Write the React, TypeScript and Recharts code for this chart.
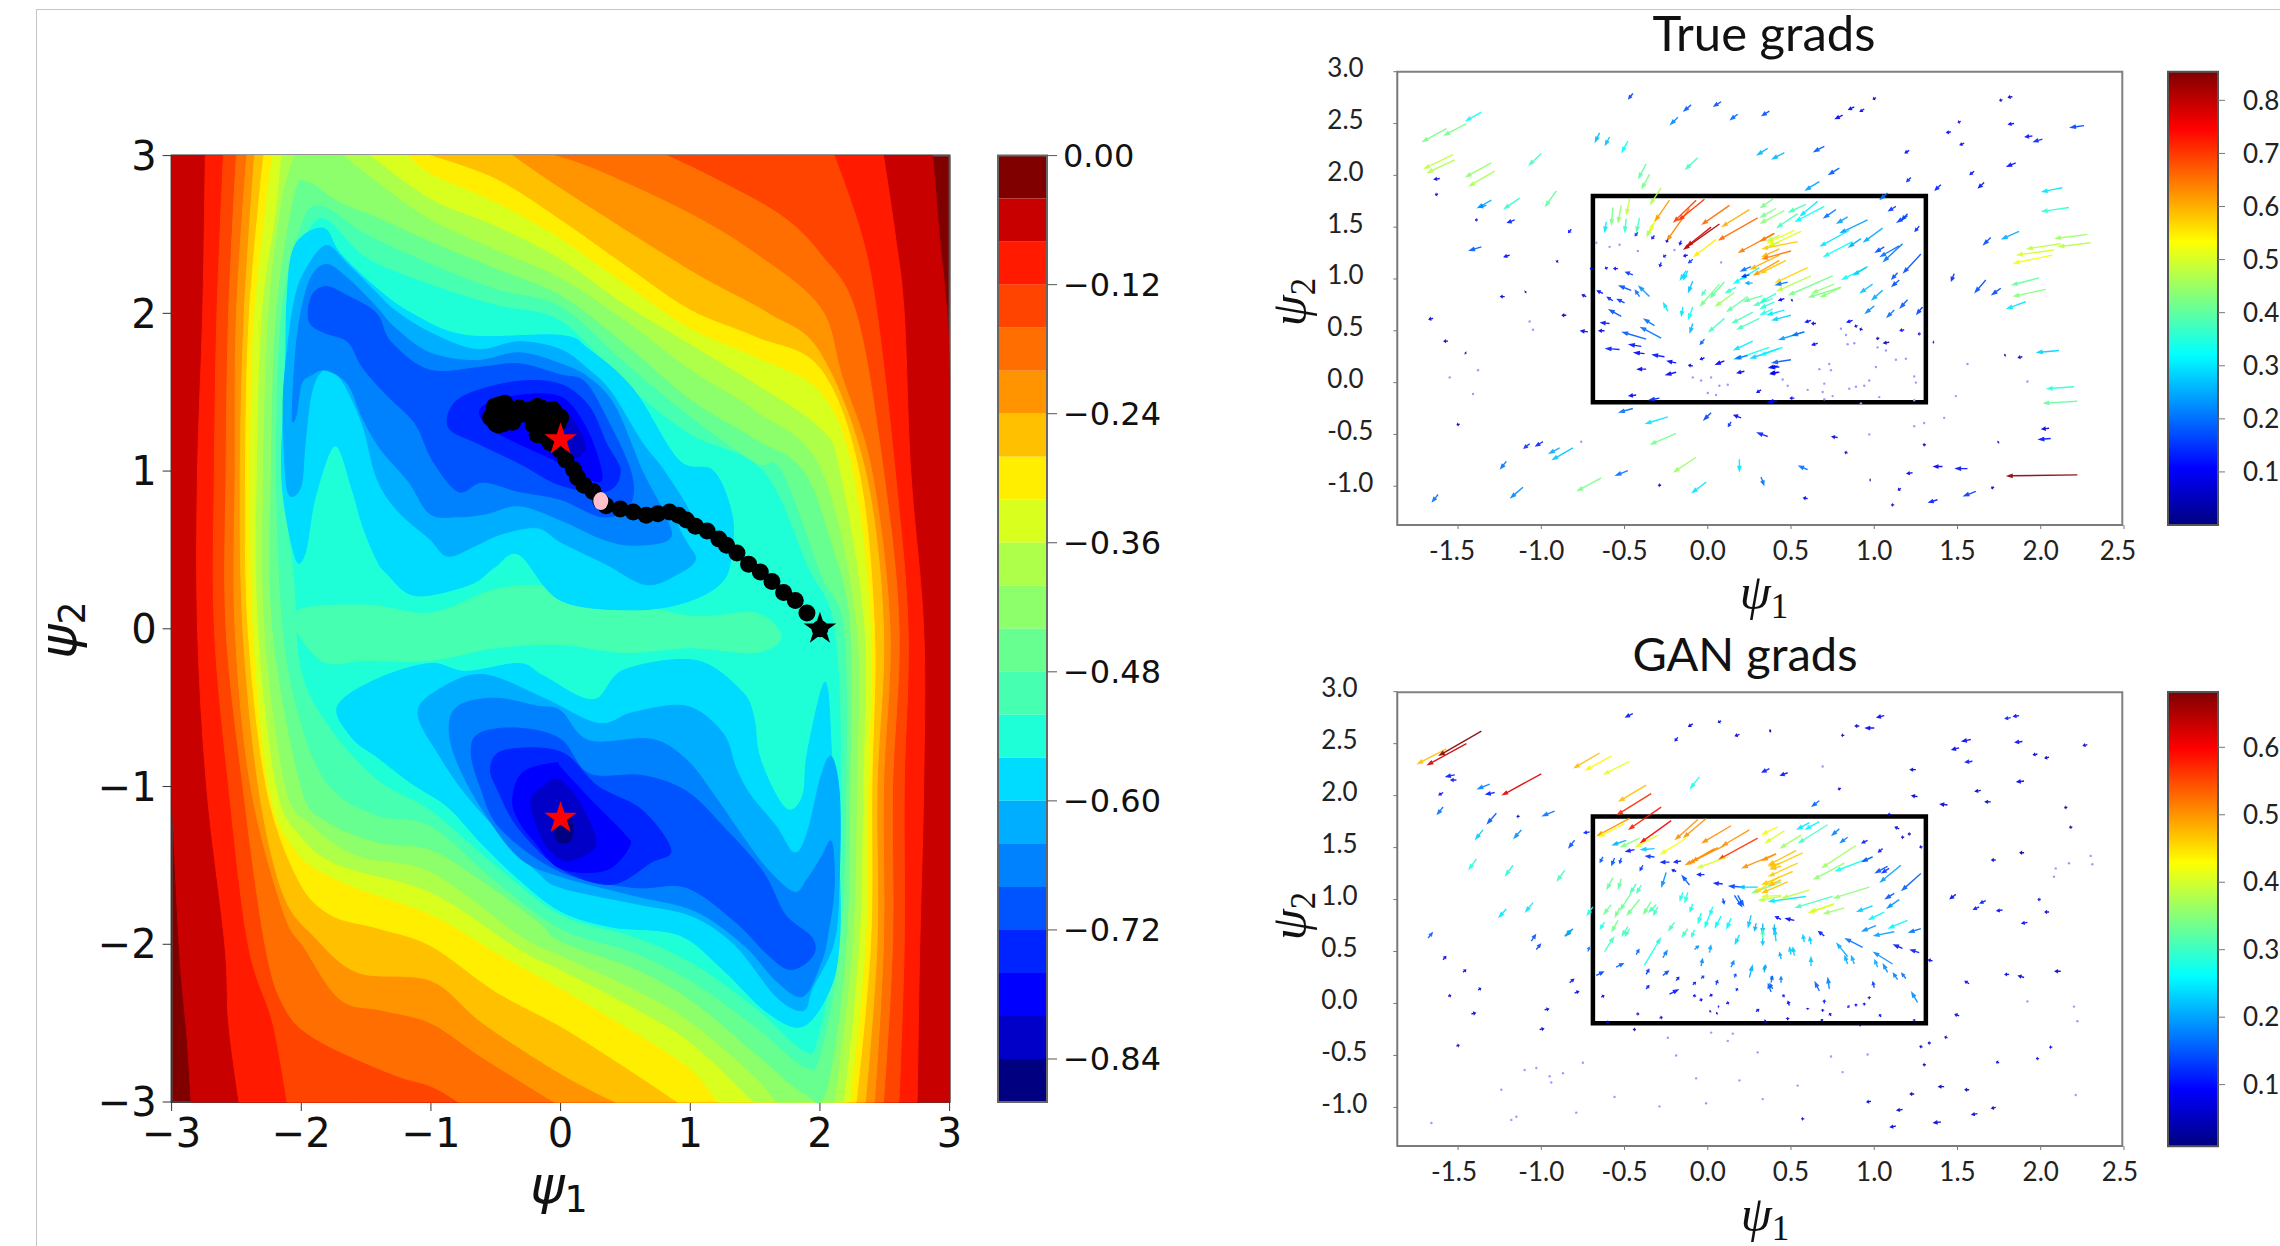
import React from "react"
import {
  ScatterChart,
  Scatter,
  XAxis,
  YAxis,
  CartesianGrid,
  ReferenceArea,
  ReferenceLine,
  Symbols,
} from "recharts"

type Pt = [number, number]
type Arrow = [number, number, number, number, number]

// contour colours, one per 0.04 band from 0.00 down to -0.88
const bandColors = [
  "#800000", "#c80000", "#ff1a00", "#ff4400", "#ff6e00", "#ff9400", "#ffc000", "#ffee00",
  "#d9ff1e", "#adff4a", "#8cff6a", "#66ff90", "#46ffb0", "#1effd8", "#00dcff", "#00aeff",
  "#0082ff", "#0054ff", "#0024ff", "#0000ff", "#0000c8", "#000080",
]
const contourTicks = [-3, -2, -1, 0, 1, 2, 3]
const bandTicks = [0, -0.12, -0.24, -0.36, -0.48, -0.6, -0.72, -0.84]
const quiverXTicks = [-1.5, -1, -0.5, 0, 0.5, 1, 1.5, 2, 2.5]
const quiverYTicks = [-1, -0.5, 0, 0.5, 1, 1.5, 2, 2.5, 3]
const trueBarTicks = [0.1, 0.2, 0.3, 0.4, 0.5, 0.6, 0.7, 0.8]
const ganBarTicks = [0.1, 0.2, 0.3, 0.4, 0.5, 0.6]

// each level is the outline of the region below that contour value
const level1: Pt[] = [[-3,3],[2.87,3],[2.92,2.5],[2.98,2],[3,1.6],[3,-3],[-2.85,-3],[-2.88,-2.6],[-2.94,-2.03],[-3,-1]]
const level2: Pt[] = [[-2.74,3],[2.49,3],[2.58,2.5],[2.65,2],[2.7,1],[2.8,0],[2.8,-1],[2.77,-2],[2.75,-3],[-2.48,-3],[-2.56,-2.5],[-2.59,-2],[-2.73,-1],[-2.8,0],[-2.8,1],[-2.76,2]]
const level3: Pt[] = [[-2.6,3],[2.11,3],[2.32,2.5],[2.44,2],[2.58,1],[2.68,0],[2.65,-1],[2.65,-2],[2.61,-3],[-2.11,-3],[-2.22,-2.5],[-2.41,-2],[-2.56,-1],[-2.67,0],[-2.67,1],[-2.65,2]]
const level4: Pt[] = [[-2.5,3],[0.82,3],[1.2,2.85],[1.7,2.62],[2,2.38],[2.28,2],[2.49,1],[2.61,0],[2.56,-1],[2.56,-2],[2.49,-3],[-0.79,-3],[-1,-2.9],[-1.31,-2.82],[-1.89,-2.6],[-2.13,-2.4],[-2.28,-2],[-2.45,-1],[-2.58,0],[-2.58,1],[-2.56,2]]
const level5: Pt[] = [[-2.42,3],[-0.05,3],[0.3,2.9],[1,2.63],[1.5,2.38],[2,2.04],[2.17,1.6],[2.4,1],[2.54,0],[2.49,-1],[2.49,-2],[2.42,-3],[-0.05,-3],[-0.6,-2.72],[-1,-2.5],[-1.37,-2.42],[-1.7,-2.35],[-1.97,-2.03],[-2.14,-1.79],[-2.39,-1],[-2.51,0],[-2.51,1],[-2.5,2]]
const level6: Pt[] = [[-2.36,3],[-0.37,3],[0,2.79],[1,2.27],[1.6,2],[2,1.75],[2.35,1],[2.49,0],[2.44,-1],[2.44,-2],[2.35,-3],[0.42,-3],[0,-2.82],[-0.6,-2.5],[-1,-2.23],[-1.56,-2.18],[-1.89,-1.96],[-2.14,-1.68],[-2.33,-1],[-2.45,0],[-2.47,1],[-2.44,2]]
const level7: Pt[] = [[-2.29,3],[-1.01,3],[-0.5,2.85],[0,2.59],[0.5,2.3],[1,2.02],[1.5,1.85],[2,1.65],[2.3,1],[2.42,0],[2.4,-1],[2.39,-2],[2.28,-3],[0.9,-3],[0.5,-2.78],[0,-2.52],[-0.5,-2.3],[-1,-2.01],[-1.4,-1.9],[-1.78,-1.81],[-2.03,-1.58],[-2.27,-1],[-2.41,0],[-2.43,1],[-2.4,2]]
const level8: Pt[] = [[-2.22,3],[-1.17,3],[-1,2.88],[-0.5,2.7],[0,2.47],[0.5,2.18],[1,1.9],[1.5,1.72],[2,1.5],[2.25,1],[2.39,0],[2.37,-1],[2.35,-2],[2.23,-3],[1.21,-3],[1,-2.79],[0.56,-2.55],[0,-2.28],[-0.5,-2.05],[-1,-1.81],[-1.7,-1.6],[-2.05,-1.4],[-2.25,-1],[-2.37,0],[-2.39,1],[-2.36,2]]
const level9: Pt[] = [[-2.15,3],[-1.47,3],[-1,2.72],[-0.5,2.55],[0,2.34],[0.5,2.05],[1,1.8],[1.5,1.55],[2,1.27],[2.15,1],[2.34,0],[2.33,-1],[2.3,-2],[2.18,-3],[1.49,-3],[1,-2.62],[0.56,-2.4],[0,-2.16],[-0.32,-2.03],[-1,-1.67],[-1.7,-1.5],[-2,-1.32],[-2.19,-1],[-2.33,0],[-2.34,1],[-2.3,2],[-2.2,2.6]]
const level10: Pt[] = [[-2.05,3],[-1.68,3],[-1.4,2.82],[-1,2.59],[-0.5,2.4],[0,2.22],[0.5,1.95],[1,1.64],[1.5,1.38],[2,1.02],[2.28,0],[2.28,-1],[2.25,-2],[2.11,-3],[1.66,-3],[1.5,-2.84],[1,-2.49],[0.56,-2.28],[0,-2.07],[-0.3,-1.95],[-1,-1.54],[-1.56,-1.44],[-1.91,-1.25],[-2.12,-1],[-2.28,0],[-2.29,1],[-2.25,2],[-2.15,2.7]]
const level11: Pt[] = [[-2.05,2.75],[-1.95,2.83],[-1.7,2.7],[-1.4,2.6],[-1,2.45],[-0.5,2.28],[0,2.11],[0.5,1.8],[1,1.45],[1.5,1.2],[1.87,1],[2.1,0.5],[2.23,0],[2.23,-1],[2.2,-2],[2.05,-2.92],[1.87,-2.94],[1.5,-2.69],[1,-2.35],[0.56,-2.15],[0,-1.98],[-0.18,-1.85],[-0.6,-1.6],[-1,-1.4],[-1.42,-1.35],[-1.8,-1.22],[-2,-1],[-2.22,0],[-2.23,1],[-2.19,2]]
const level12: Pt[] = [[-2,2.55],[-1.85,2.68],[-1.5,2.5],[-1,2.31],[-0.5,2.15],[0,2.04],[0.5,1.68],[1,1.34],[1.5,1.05],[1.7,1],[2,0.35],[2.18,0],[2.2,-1],[2.15,-2],[2,-2.7],[1.87,-2.77],[1.5,-2.52],[1,-2.23],[0.56,-2.05],[0,-1.9],[-0.5,-1.6],[-1,-1.25],[-1.42,-1.18],[-1.78,-1],[-2,-0.6],[-2.14,0],[-2.19,1],[-2.15,2]]
const level13: Pt[] = [[-2,2.4],[-1.83,2.6],[-1.5,2.35],[-1,2.18],[-0.5,2.05],[0,1.95],[0.5,1.55],[1,1.23],[1.56,1],[1.9,0.4],[2.11,0],[2.16,-1],[2.11,-2],[1.98,-2.6],[1.87,-2.67],[1.5,-2.4],[1,-2.11],[0.56,-1.95],[0,-1.81],[-0.5,-1.5],[-1,-1.15],[-1.42,-0.95],[-1.8,-0.6],[-2,-0.25],[-2.05,0.3],[-2.13,1],[-2.11,2]]
const saddle: Pt[] = [[-2.05,0.1],[-1.5,0.15],[-1,0.1],[-0.5,0.25],[-0.1,0.27],[0.3,0.22],[1,0.08],[1.5,0.1],[1.7,-0.05],[1.5,-0.15],[1,-0.12],[0.5,-0.15],[0,-0.1],[-0.5,-0.12],[-1,-0.2],[-1.5,-0.2],[-1.85,-0.2]]
const upper14: Pt[] = [[-2.05,2.43],[-1.83,2.54],[-1.7,2.38],[-1.42,2.16],[-1.15,2],[-0.73,1.86],[0,1.86],[0.22,1.77],[0.56,1.52],[0.91,1.07],[1.18,1],[1.32,0.73],[1.32,0.5],[1.25,0.3],[0.97,0.17],[0.56,0.12],[0,0.18],[-0.32,0.47],[-0.51,0.39],[-0.7,0.28],[-1.12,0.21],[-1.34,0.35],[-1.42,0.44],[-1.53,0.66],[-1.61,0.89],[-1.74,1.16],[-1.89,0.84],[-1.97,0.48],[-2.05,0.46],[-2.15,0.96],[-2.12,1.64],[-2.11,2.09]]
const upper15: Pt[] = [[-1.81,2.43],[-1.64,2.31],[-1.42,2.13],[-1.28,2.02],[-1.01,1.88],[-0.65,1.77],[-0.32,1.82],[0,1.77],[0.22,1.64],[0.39,1.5],[0.63,1.18],[0.8,1],[1.01,0.71],[0.91,0.66],[0.97,0.55],[1.04,0.44],[0.91,0.35],[0.66,0.28],[0.35,0.41],[0,0.55],[-0.18,0.64],[-0.46,0.6],[-0.65,0.53],[-0.87,0.46],[-1.01,0.57],[-1.26,0.75],[-1.42,0.96],[-1.53,1.3],[-1.7,1.59],[-1.83,1.64],[-1.92,1.5],[-1.97,1.18],[-2,0.91],[-2.08,0.84],[-2.12,0.96],[-2.14,1.41],[-2.11,1.75],[-2.05,2.09],[-1.97,2.27]]
const upper16: Pt[] = [[-1.81,2.31],[-1.64,2.22],[-1.42,2.04],[-1.28,1.91],[-1.01,1.75],[-0.65,1.7],[-0.32,1.75],[0,1.68],[0.22,1.59],[0.42,1.41],[0.63,1],[0.8,0.73],[0.84,0.57],[0.56,0.53],[0.32,0.57],[0,0.69],[-0.32,0.78],[-0.57,0.73],[-0.79,0.71],[-1.01,0.73],[-1.17,0.93],[-1.39,1.14],[-1.53,1.34],[-1.64,1.55],[-1.81,1.64],[-1.92,1.61],[-2,1.55],[-2.04,1.35],[-2.07,1.36],[-2.03,1.86],[-1.94,2.2]]
const upper17: Pt[] = [[-1.81,2.17],[-1.64,2.11],[-1.42,2],[-1.31,1.82],[-1.01,1.64],[-0.6,1.66],[-0.32,1.68],[0,1.61],[0.18,1.57],[0.32,1.39],[0.54,1],[0.53,0.78],[0.32,0.71],[0,0.82],[-0.32,0.87],[-0.6,0.93],[-0.79,0.87],[-0.99,1.07],[-1.12,1.3],[-1.34,1.48],[-1.53,1.66],[-1.64,1.82],[-1.83,1.88],[-1.94,1.95],[-1.92,2.11]]
const upper18: Pt[] = [[-0.84,1.41],[-0.68,1.5],[-0.32,1.57],[0,1.55],[0.22,1.41],[0.35,1.18],[0.46,1],[0.35,0.87],[0,0.91],[-0.32,1.05],[-0.65,1.18],[-0.86,1.27]]
const upper19: Pt[] = [[-0.6,1.32],[-0.6,1.41],[-0.32,1.48],[0,1.47],[0.18,1.3],[0.3,1.05],[0.29,0.93],[0,1.05],[-0.46,1.23]]
const upper20: Pt[] = [[0,1.4],[0.15,1.25],[0.18,1.12],[0,1.07],[-0.16,1.2],[-0.16,1.35]]
const lower14: Pt[] = [[-1.72,-0.49],[-1.61,-0.69],[-1.42,-0.81],[-1.15,-0.98],[-0.87,-1.13],[-0.6,-1.37],[-0.32,-1.59],[0,-1.79],[0.39,-1.89],[0.91,-1.94],[1.25,-2.16],[1.59,-2.43],[1.87,-2.52],[2.08,-2.28],[2.15,-1.98],[2.15,-1.54],[2.11,-1.05],[2.09,-0.8],[2.06,-0.39],[2.01,-0.39],[1.9,-0.8],[1.87,-1.05],[1.77,-1.15],[1.66,-1.05],[1.53,-0.8],[1.49,-0.56],[1.39,-0.39],[1.04,-0.2],[0.49,-0.26],[0.25,-0.45],[-0.13,-0.3],[-0.32,-0.22],[-0.73,-0.27],[-1.01,-0.22],[-1.42,-0.32]]
const lower15: Pt[] = [[-1.1,-0.54],[-0.95,-0.39],[-0.6,-0.29],[-0.13,-0.44],[0.29,-0.6],[0.56,-0.53],[0.97,-0.49],[1.25,-0.66],[1.35,-0.88],[1.46,-1.05],[1.66,-1.25],[1.8,-1.42],[1.9,-1.3],[2.01,-0.93],[2.09,-0.81],[2.15,-1.05],[2.15,-1.54],[2.11,-1.98],[1.94,-2.28],[1.87,-2.42],[1.66,-2.33],[1.35,-2.01],[1.01,-1.82],[0.56,-1.74],[0,-1.64],[-0.18,-1.54],[-0.46,-1.3],[-0.73,-1.05],[-0.93,-0.81]]
const lower16: Pt[] = [[-0.86,-0.64],[-0.79,-0.49],[-0.51,-0.44],[-0.18,-0.49],[0,-0.52],[0.22,-0.71],[0.7,-0.7],[0.97,-0.83],[1.18,-1.05],[1.39,-1.3],[1.59,-1.52],[1.8,-1.67],[1.9,-1.59],[2.01,-1.45],[2.09,-1.35],[2.11,-1.64],[2.06,-1.94],[2.01,-2.11],[1.87,-2.33],[1.66,-2.23],[1.42,-2.01],[1.04,-1.79],[0.56,-1.69],[0,-1.57],[-0.32,-1.45],[-0.6,-1.15],[-0.79,-0.86]]
const lower17: Pt[] = [[-0.69,-0.78],[-0.62,-0.66],[-0.32,-0.63],[0,-0.7],[0.22,-0.92],[0.63,-0.93],[0.97,-1.03],[1.25,-1.25],[1.56,-1.54],[1.73,-1.81],[1.94,-1.96],[1.94,-2.08],[1.77,-2.16],[1.59,-2.06],[1.35,-1.86],[0.97,-1.64],[0.56,-1.64],[0,-1.54],[-0.46,-1.27],[-0.62,-1]]
const lower18: Pt[] = [[-0.54,-0.88],[-0.43,-0.77],[0,-0.78],[0.29,-1],[0.63,-1.15],[0.85,-1.4],[0.7,-1.48],[0.39,-1.62],[0,-1.52],[-0.32,-1.27],[-0.48,-1.03]]
const lower19: Pt[] = [[-0.37,-1.08],[-0.29,-0.91],[-0.04,-0.85],[0,-0.88],[0.25,-1.1],[0.49,-1.3],[0.53,-1.38],[0.35,-1.53],[0,-1.52],[-0.2,-1.35],[-0.32,-1.22]]
const lower20: Pt[] = [[-0.23,-1.1],[-0.13,-1],[0,-0.96],[0.18,-1.15],[0.27,-1.37],[0.11,-1.46],[0,-1.46],[-0.13,-1.35]]
const lower21: Pt[] = [[-0.03,-1.2],[0.08,-1.2],[0.08,-1.34],[-0.03,-1.34]]

const contourLayers: [number, Pt[]][] = [
  [1, level1], [2, level2], [3, level3], [4, level4], [5, level5], [6, level6], [7, level7],
  [8, level8], [9, level9], [10, level10], [11, level11], [12, level12], [13, level13], [12, saddle],
  [14, upper14], [14, lower14], [15, upper15], [15, lower15], [16, upper16], [16, lower16],
  [17, upper17], [17, lower17], [18, upper18], [18, lower18], [19, upper19], [19, lower19],
  [20, upper20], [20, lower20], [21, lower21],
]

const trajectory: Pt[] = [
  [2,0],[1.9,0.1],[1.81,0.18],[1.72,0.23],[1.63,0.3],[1.54,0.36],[1.45,0.41],[1.36,0.48],[1.28,0.53],[1.22,0.57],
  [1.13,0.62],[1.04,0.65],[0.97,0.69],[0.91,0.72],[0.84,0.74],[0.75,0.73],[0.66,0.72],[0.56,0.74],[0.46,0.76],
  [0.35,0.78],[0.31,0.81],[0.25,0.87],[0.18,0.91],[0.13,0.96],[0.1,1.01],[0.04,1.07],[0,1.13],[-0.08,1.18],
  [-0.18,1.23],[-0.21,1.29],[-0.16,1.34],[-0.09,1.38],[0,1.34],[-0.06,1.39],[-0.12,1.32],[-0.23,1.39],[-0.18,1.41],
  [-0.32,1.4],[-0.43,1.43],[-0.51,1.41],[-0.54,1.34],[-0.48,1.29],[-0.37,1.31],[-0.24,1.36],[-0.47,1.42],[-0.4,1.36],
  [-0.5,1.4],[-0.45,1.37],[-0.36,1.39],[-0.3,1.36],[-0.25,1.38],[-0.15,1.4],[-0.05,1.38],[-0.02,1.3],[-0.1,1.28],
  [-0.15,1.27],[-0.05,1.25],[-0.12,1.22],[-0.03,1.2],[-0.52,1.36],[-0.5,1.3],[-0.44,1.3],
]
const trajectoryMark: Pt[] = [[0.31,0.81]]
const minima: Pt[] = [[0,1.2],[0,-1.2]]
const startPoint: Pt[] = [[2,0]]

// head x, head y, tail x, tail y, magnitude
const trueArrows: Arrow[] = [
  [-1.72,2.32,-1.57,2.45,.42],[-1.59,2.38,-1.45,2.5,.42],[-1.46,2.52,-1.36,2.61,.33],[-1.71,2.06,-1.53,2.2,.48],[-1.69,2.02,-1.52,2.15,.47],
  [-1.46,1.98,-1.3,2.12,.44],[-1.44,1.89,-1.28,2.04,.46],[-1.08,2.09,-1,2.21,.38],[-1.65,1.96,-1.61,1.97,.1],[-1.64,1.81,-1.62,1.82,.08],
  [-1.39,1.68,-1.3,1.76,.25],[-1.38,1.69,-1.33,1.71,.22],[-1.23,1.67,-1.13,1.78,.36],[-.98,1.69,-.91,1.85,.4],[-1.4,1.57,-1.38,1.57,.08],
  [-1.21,1.54,-1.16,1.57,.13],[-.84,1.44,-.82,1.48,.12],[-1.44,1.27,-1.36,1.31,.18],[-1.23,1.21,-1.19,1.23,.1],[-.91,1.16,-.9,1.18,.05],
  [-.68,2.31,-.65,2.41,.26],[-.62,2.28,-.59,2.37,.27],[-.52,2.21,-.48,2.33,.32],[-.48,2.73,-.45,2.79,.16],[-.23,2.48,-.18,2.56,.22],
  [-.15,2.61,-.1,2.68,.18],[.03,2.66,.08,2.71,.17],[.13,2.53,.18,2.59,.19],[.32,2.57,.37,2.62,.17],[.29,2.19,.36,2.26,.26],[.38,2.15,.46,2.22,.26],
  [-.14,2.05,-.06,2.17,.38],[-.42,1.96,-.37,2.11,.4],[-.4,1.86,-.35,2.01,.42],[-.35,1.71,-.28,1.88,.47],
  [-.49,1.61,-.47,1.77,.48],[-.58,1.51,-.57,1.69,.42],[-.54,1.53,-.52,1.71,.44],[-.62,1.44,-.61,1.55,.3],[-.5,1.44,-.49,1.58,.36],[-.43,1.44,-.41,1.59,.38],
  [-.37,1.4,-.33,1.53,.45],[-.35,1.44,-.3,1.63,.52],[-.32,1.55,-.23,1.76,.62],[-.25,1.36,-.11,1.68,.64],[-.21,1.54,-.07,1.76,.7],[-.18,1.56,-.02,1.77,.71],
  [-.34,1.38,-.32,1.42,.12],[-.44,1.41,-.42,1.45,.15],[-.25,1.35,-.24,1.38,.08],[-.17,1.32,-.16,1.37,.12],[-.15,1.28,.07,1.53,.82],[-.13,1.31,.02,1.5,.78],
  [-.09,1.21,.05,1.38,.55],[-.04,1.52,.13,1.71,.66],[.08,1.5,.25,1.67,.6],[.06,1.37,.3,1.59,.66],[.18,1.25,.4,1.44,.65],[-.27,1.21,-.25,1.23,.12],
  [-.29,1.11,-.28,1.16,.13],[-.15,1.22,-.12,1.23,.1],[-.12,1.15,-.09,1.19,.16],[-.17,.98,-.13,1.08,.29],[-.15,.98,-.12,1.08,.29],[-.12,.86,-.09,.98,.27],
  [-.62,1.1,-.6,1.11,.1],[-.57,1.1,-.54,1.1,.1],[-.5,1.07,-.45,1.04,.15],[-.71,1.1,-.69,1.1,.1],[-.54,.94,-.46,.89,.17],[-.44,.9,-.41,.83,.2],[-.42,.94,-.35,.83,.23],
  [-.67,.89,-.63,.86,.1],[-.61,.83,-.57,.79,.14],[-.55,.81,-.5,.77,.15],[-.76,.85,-.73,.83,.08],[-1.25,.83,-1.22,.83,.06],[-1.1,.87,-1.09,.88,.03],
  [-.27,.78,-.24,.69,.3],[-.16,.63,-.15,.73,.3],[-.12,.6,-.09,.73,.33],[-.05,.73,.07,.95,.42],[.01,.81,.1,.97,.4],[-.04,.83,-.01,.9,.38],[.04,.73,.16,.87,.45],
  [.11,.68,.24,.83,.4],[.1,.86,.17,.92,.36],[.19,.99,.31,1.11,.34],[.15,.95,.25,1.05,.32],[.35,1.36,.43,1.42,.47],[.36,1.32,.43,1.35,.47],[.32,1.21,.43,1.29,.6],
  [.27,1.03,.43,1.18,.62],[.25,1.09,.43,1.23,.6],[.19,1.07,.26,1.12,.2],[.2,1.02,.25,1.04,.14],[.22,.96,.27,.96,.25],[.21,.78,.33,.84,.4],[.27,.74,.39,.81,.38],
  [.76,2.54,.81,2.58,.1],[.84,2.63,.88,2.66,.1],[.91,2.61,.94,2.64,.1],[.99,2.73,1.01,2.75,.08],[1.75,2.72,1.77,2.73,.05],[1.8,2.75,1.83,2.76,.05],
  [1.5,2.51,1.52,2.52,.08],[1.43,2.41,1.46,2.42,.1],[1.51,2.29,1.54,2.31,.1],[1.8,2.49,1.84,2.5,.09],[1.9,2.37,1.95,2.38,.12],[1.95,2.32,2.01,2.35,.14],
  [2.17,2.46,2.26,2.48,.16],[1.18,2.21,1.21,2.24,.1],[.63,2.22,.7,2.28,.18],[.72,2,.79,2.07,.18],[.58,1.85,.67,1.94,.24],[1.19,1.93,1.22,1.98,.14],
  [1.36,1.85,1.4,1.91,.13],[1.57,2,1.6,2.04,.12],[1.62,1.87,1.66,1.93,.12],[1.79,2.08,1.85,2.12,.12],[2,1.84,2.13,1.88,.3],[2,1.65,2.17,1.69,.36],
  [1.03,1.76,1.08,1.83,.2],[1.08,1.65,1.13,1.7,.15],[1.13,1.54,1.2,1.61,.16],[1.16,1.56,1.2,1.63,.16],[1.24,1.45,1.27,1.51,.14],[1.65,1.32,1.7,1.4,.17],
  [1.76,1.38,1.87,1.46,.25],[2.08,1.39,2.28,1.43,.45],[1.91,1.29,2.12,1.34,.48],[2.1,1.31,2.3,1.35,.47],[1.85,1.23,2.08,1.28,.5],[1.83,1.15,2.07,1.23,.52],
  [1.82,.94,1.99,1.01,.4],[1.83,.83,2.03,.9,.43],[1.79,.71,1.91,.78,.3],[1.6,.86,1.67,.99,.17],[1.7,.84,1.76,.91,.17],[1.46,.97,1.48,1.05,.14],
  [.31,1.59,.41,1.68,.42],[.31,1.68,.39,1.77,.42],[.31,1.53,.46,1.66,.44],[.41,1.49,.54,1.63,.38],[.48,1.64,.59,1.72,.38],[.52,1.55,.7,1.7,.32],[.55,1.6,.66,1.75,.3],
  [.69,1.58,.77,1.67,.2],[.77,1.53,.84,1.6,.24],[.79,1.44,.96,1.57,.24],[.67,1.31,.85,1.47,.3],[.69,1.21,.87,1.36,.33],[.84,1.3,.92,1.39,.25],[.93,1.35,1.05,1.49,.25],
  [1,1.25,1.06,1.31,.17],[1.03,1.21,1.15,1.32,.2],[1.05,1.16,1.17,1.34,.2],[1.17,1.05,1.28,1.24,.17],[1.1,.99,1.14,1.06,.17],[1.1,.92,1.15,.99,.17],
  [.31,1.36,.4,1.44,.65],[.35,1.34,.52,1.47,.52],[.36,1.31,.56,1.46,.5],[.32,1.19,.5,1.27,.65],[.32,1.29,.54,1.36,.58],[.31,1.05,.47,1.18,.58],[.4,.96,.6,1.11,.57],
  [.41,.88,.62,1.03,.47],[.48,.84,.75,1.03,.42],[.6,.82,.8,.92,.42],[.67,.82,.8,.92,.44],[.62,.86,.76,.95,.44],[.4,.94,.48,.97,.2],[.8,.99,.95,1.11,.33],[.87,1.03,.96,1.12,.28],
  [.91,.86,.99,.95,.27],[.98,.79,1.05,.89,.25],[.94,.66,1,.74,.22],[1.07,.62,1.12,.7,.2],[1.15,.71,1.2,.8,.18],[1.25,.65,1.29,.73,.16],[.42,.79,.46,.81,.1],[.5,.79,.51,.8,.04],
  [.31,.77,.41,.86,.35],[.31,.71,.4,.78,.35],[.31,.65,.39,.71,.35],[.35,.65,.46,.7,.3],[.38,.6,.5,.65,.28],
  [-1.68,.61,-1.65,.62,.07],[-1.59,.4,-1.56,.4,.05],[-1.46,.29,-1.45,.28,.03],[-1.51,-.41,-1.49,-.4,.04],[-.88,.65,-.85,.65,.05],[-.77,.5,-.72,.49,.09],[-.66,.5,-.62,.5,.1],
  [-.65,.58,-.59,.57,.12],[-.6,.71,-.52,.64,.17],[-.39,.62,-.32,.55,.2],[-.52,.49,-.37,.42,.18],[-.41,.54,-.28,.43,.2],[-.62,.33,-.53,.32,.13],[-.48,.37,-.4,.35,.12],
  [-.45,.29,-.38,.28,.09],[-.34,.27,-.26,.25,.12],[-.25,.21,-.19,.19,.1],[-.43,.13,-.37,.13,.09],[-.26,.07,-.19,.1,.1],[-.12,.17,-.09,.16,.07],[-.05,.22,-.02,.24,.1],
  [.04,.17,.1,.21,.1],[.17,.09,.22,.11,.09],[-.48,-.13,-.43,-.12,.1],[-.36,-.17,-.29,-.15,.14],[-.54,-.29,-.45,-.25,.2],[-.38,-.4,-.24,-.33,.3],[-.35,-.6,-.19,-.49,.42],
  [-.21,-.87,-.07,-.72,.45],[-.1,-1.07,-.01,-.96,.3],[-.79,-1.05,-.64,-.92,.42],[-.56,-.9,-.48,-.85,.2],[-.96,-.69,-.89,-.63,.25],[-.94,-.75,-.81,-.63,.27],[-1.11,-.64,-1.07,-.59,.15],
  [-1.04,-.62,-.99,-.57,.14],[-1.25,-.84,-1.21,-.76,.2],[-1.19,-1.12,-1.11,-1.01,.22],[-1.66,-1.16,-1.62,-1.08,.2],[-.3,-.99,-.28,-.99,.07],[-.03,-.37,.02,-.29,.16],
  [.12,-.43,.14,-.38,.14],[.15,-.31,.2,-.34,.1],[.29,-.48,.36,-.52,.13],[.19,-.87,.19,-.74,.3],[.34,-1,.32,-.91,.2],[.15,.31,.27,.4,.3],[.15,.22,.37,.34,.33],[.25,.23,.43,.33,.28],
  [-.05,.36,-.02,.42,.18],[-.11,.47,-.09,.57,.26],[0,.48,.1,.62,.38],[.17,.51,.31,.62,.38],[.14,.57,.27,.68,.38],[.16,.23,.24,.26,.2],[.37,.15,.43,.15,.12],[.37,.09,.43,.1,.11],
  [.29,-.1,.32,-.07,.1],[.35,-.19,.42,-.18,.1],[.42,.41,.58,.49,.24],[.5,.45,.58,.49,.2],[.58,.58,.62,.6,.1],[.62,.57,.65,.57,.08],[.62,.36,.66,.38,.1],[.83,.58,.87,.6,.1],
  [.88,.54,.9,.55,.05],[.91,.52,.93,.51,.05],[1.15,.5,1.18,.51,.1],[1.26,.47,1.28,.47,.1],[1.35,.39,1.36,.39,.05],[1.01,.42,1.03,.43,.04],[1.05,.38,1.09,.39,.04],[.31,.26,.45,.34,.32],
  [.38,.19,.5,.22,.18],[.36,.14,.42,.16,.12],[.37,.08,.42,.1,.1],[1.78,.26,1.79,.27,.04],[1.86,.24,1.89,.25,.06],[1.97,.29,2.11,.31,.28],[2.03,-.06,2.2,-.04,.35],[2.01,-.2,2.22,-.18,.4],
  [1.29,-.6,1.31,-.6,.04],[1.74,-.58,1.75,-.57,.04],[2,-.45,2.05,-.44,.08],[1.98,-.55,2.06,-.54,.12],[1.79,-.9,2.22,-.89,.85],[.74,-.52,.78,-.53,.08],[.82,-.67,.84,-.68,.06],
  [.54,-.8,.6,-.84,.2],[.97,-.94,.98,-.94,.05],[.57,-1.11,.6,-1.12,.1],[1.19,-.88,1.23,-.87,.09],[1.35,-.81,1.41,-.81,.1],[1.48,-.83,1.56,-.83,.12],[1.14,-1.04,1.16,-1.02,.06],
  [1.53,-1.1,1.61,-1.05,.15],[1.32,-1.16,1.38,-1.13,.13],[1.1,-1.18,1.12,-1.18,.05],[1.7,-1.02,1.72,-1.01,.05],[.49,-.15,.52,-.15,.1],[.37,-.18,.41,-.18,.1],
]
const trueSpecks: Pt[] = [
  [.8,.52],[.83,.46],[.84,.37],[.88,.38],[1.02,.34],[1.07,.31],[1.13,.22],[1.19,.23],[1.01,.15],[.67,.13],[.73,.18],[.74,.12],[.45,.03],[.48,-.03],[.7,-.01],[.6,-.07],[.69,-.09],
  [.75,-.13],[.85,-.06],[.89,-.04],[.94,-.03],[.97,.02],[1.24,.06],[1.25,0],[1.03,-.14],[1.24,-.17],[.92,-.2],[.7,-.16],[-.67,1.35],[-.59,1.31],[-.53,1.33],[-.42,1.27],[-.2,1.28],[.08,1.16],
  [-1.55,.05],[-1.38,.12],[-1.41,-.11],[-1.07,.59],[-1.05,.51],[-.76,-.57],[-.09,.05],[-.04,.02],[.02,.05],[.07,-.03],[.12,-.02],[0,-.1],[.05,-.12],[1.92,.01],[1.56,.18],[1.49,-.13],[1.42,-.34],[1.3,-.39],[1.24,-.42],[.97,-.5],
]

const ganArrows: Arrow[] = [
  [-1.75,2.3,-1.57,2.45,.47],[-1.69,2.29,-1.45,2.5,.63],[-1.62,2.38,-1.36,2.62,.68],[-1.58,2.18,-1.52,2.2,.1],[-1.55,2.15,-1.51,2.15,.1],[-1.39,2.06,-1.31,2.11,.17],[-1.34,2.01,-1.28,2.03,.1],
  [-1.24,2,-1,2.21,.62],[-.81,2.26,-.65,2.41,.47],[-.74,2.24,-.58,2.38,.43],[-.63,2.2,-.47,2.33,.41],[-.5,2.75,-.45,2.79,.1],[-.2,2.52,-.18,2.56,.08],[-.12,2.66,-.09,2.69,.06],[.06,2.7,.08,2.72,.05],
  [.16,2.57,.19,2.59,.06],[.37,2.62,.38,2.63,.02],[.32,2.22,.37,2.26,.1],[-.11,2.06,-.05,2.18,.27],[-1.62,2,-1.59,2.03,.08],[-1.63,1.81,-1.59,1.89,.16],[-1.33,1.72,-1.27,1.83,.14],[-1.15,1.8,-1.13,1.8,.06],
  [-1,1.8,-.92,1.85,.16],[-1.4,1.57,-1.35,1.67,.22],[-1.17,1.58,-1.12,1.67,.18],[-.84,1.49,-.8,1.57,.14],[-.75,1.64,-.71,1.65,.1],[-1.44,1.28,-1.39,1.39,.28],[-1.22,1.22,-1.17,1.33,.28],[-.91,1.17,-.86,1.28,.3],
  [-1.26,.82,-1.21,.91,.24],[-1.1,.87,-1.05,.97,.24],[-.86,.64,-.81,.72,.18],[-.73,.84,-.69,.93,.27],[-.54,1.94,-.37,2.1,.47],[-.55,1.81,-.34,2.02,.57],[-.48,1.67,-.28,1.89,.58],[-.67,1.61,-.47,1.78,.5],[-.66,1.6,-.5,1.73,.42],
  [-.41,1.54,-.22,1.76,.6],[-.58,1.52,-.49,1.57,.2],[-.53,1.5,-.41,1.59,.34],[-.44,1.5,-.3,1.62,.4],[-.29,1.43,-.13,1.59,.42],[-.5,1.46,-.44,1.48,.1],[-.41,1.48,-.32,1.49,.22],[-.38,1.42,-.32,1.41,.12],
  [-.65,1.35,-.63,1.41,.14],[-.58,1.32,-.56,1.4,.14],[-.53,1.34,-.52,1.4,.13],[-.41,1.27,-.39,1.33,.12],[-.29,1.36,-.23,1.36,.1],[-.21,1.36,-.16,1.37,.1],[-.22,1.29,-.19,1.27,.07],[-.28,1.11,-.25,1.26,.18],
  [-.16,1.24,-.11,1.14,.14],[-.07,1.24,-.02,1.24,.1],[-.14,1.33,.1,1.52,.5],[-.1,1.36,.04,1.49,.5],[-.12,1.34,.06,1.5,.5],[-.2,1.57,-.06,1.77,.5],[-.15,1.59,-.01,1.78,.5],[-.04,1.54,.14,1.71,.5],[.08,1.51,.25,1.67,.5],
  [.06,1.38,.3,1.59,.56],[-.07,1.3,.12,1.41,.4],[.2,1.3,.41,1.44,.5],[.03,1.16,.09,1.15,.1],[.12,1.13,.22,1.12,.13],[.18,1.12,.3,1.12,.22],[.26,1.06,.44,1.17,.33],[.28,1.06,.43,1.22,.45],[.36,1.32,.44,1.35,.47],
  [.37,1.29,.44,1.32,.47],[.36,1.13,.44,1.19,.47],[.3,.99,.44,1.03,.38],[.21,.92,.16,1.04,.14],[.22,.93,.18,1.04,.14],[.1,.95,.09,1.01,.13],[-.47,1.05,-.43,1.15,.3],[-.43,1.05,-.4,1.14,.3],[-.61,1.09,-.57,1.21,.32],
  [-.54,1.09,-.52,1.2,.32],[-.63,.85,-.58,.95,.33],[-.56,.82,-.53,.92,.33],[-.53,.89,-.46,1.06,.33],[-.49,.84,-.41,1,.33],[-.39,.85,-.34,.98,.33],[-.36,.87,-.31,.95,.3],[-.33,.84,-.3,.93,.3],[-.65,.71,-.62,.78,.27],
  [-.58,.68,-.54,.8,.33],[-.52,.64,-.48,.74,.3],[-.5,.64,-.47,.72,.3],[-.24,.69,-.2,.78,.3],[-.16,.63,-.12,.72,.3],[-.1,.63,-.08,.71,.28],[-.14,.96,-.12,1.07,.28],[-.17,.98,-.15,1.07,.27],[-.11,.87,-.09,.96,.27],
  [-.06,.76,-.04,.87,.27],[-.02,.72,.01,.85,.26],[.01,.84,.03,.93,.26],[.04,.72,.08,.84,.25],[.11,.71,.14,.82,.25],[.16,.56,.19,.66,.23],[.24,.72,.26,.85,.22],[.28,.69,.29,.77,.2],[.33,.66,.33,.77,.2],[.4,.68,.4,.76,.2],[.33,.55,.33,.63,.22],
  [1.01,2.75,1.06,2.77,.07],[1.78,2.74,1.82,2.75,.1],[1.83,2.76,1.87,2.77,.09],[.88,2.67,.91,2.67,.05],[.94,2.65,1,2.65,.08],[.37,2.62,.38,2.62,.02],[.8,2.58,.82,2.58,.03],[1.52,2.52,1.58,2.54,.09],[1.46,2.44,1.51,2.46,.08],
  [1.84,2.51,1.89,2.52,.09],[1.95,2.39,1.98,2.4,.05],[2.02,2.36,2.05,2.37,.04],[2.25,2.48,2.28,2.49,.05],[1.54,2.32,1.59,2.33,.1],[1.21,2.25,1.25,2.25,.05],[.43,2.19,.48,2.22,.1],[.78,2.06,.8,2.07,.07],[1.22,2,1.26,1.99,.04],
  [1.6,2.04,1.64,2.05,.05],[1.85,2.13,1.9,2.14,.07],[1.39,1.92,1.44,1.91,.06],[1.66,1.94,1.7,1.94,.04],[.62,1.89,.67,1.95,.15],[2.14,1.88,2.16,1.89,.02],[2.17,1.69,2.19,1.7,.02],[1.08,1.82,1.1,1.82,.06],[1.12,1.7,1.15,1.68,.06],
  [1.16,1.6,1.18,1.6,.06],[1.2,1.63,1.22,1.63,.05],[1.27,1.5,1.29,1.51,.06],[1.7,1.38,1.73,1.38,.06],[1.87,1.45,1.9,1.45,.02],[1.45,1,1.49,1.05,.09],[1.59,.9,1.63,.93,.1],[1.63,.96,1.67,.99,.1],[1.73,.89,1.77,.9,.08],[1.98,1,2,1,.07],
  [2.02,.88,2.05,.88,.06],[1.88,.77,1.92,.78,.09],[.32,1.62,.42,1.7,.42],[.34,1.54,.46,1.66,.4],[.43,1.49,.56,1.62,.36],[.53,1.67,.61,1.74,.24],[.54,1.54,.72,1.72,.3],[.58,1.67,.67,1.75,.25],[.74,1.61,.79,1.68,.17],[.79,1.54,.84,1.6,.17],
  [.92,1.54,.96,1.57,.1],[1.02,1.45,1.05,1.49,.1],[.32,1.37,.41,1.44,.5],[.36,1.33,.53,1.47,.47],[.37,1.3,.57,1.45,.46],[.36,1.22,.54,1.35,.46],[.32,1.14,.51,1.27,.46],[.32,1.06,.48,1.17,.47],[.68,1.3,.89,1.52,.36],[.63,1.19,.82,1.35,.35],
  [.76,1.27,.99,1.41,.27],[.92,1.36,.99,1.41,.14],[1,1.25,1.08,1.32,.14],[1.04,1.25,1.09,1.3,.12],[1.03,1.16,1.16,1.33,.19],[1.06,1,1.12,1.06,.14],[1.16,1.08,1.28,1.25,.15],[.36,.98,.59,1.03,.24],[.32,1.03,.44,1.04,.4],[.44,1.01,.61,1.09,.38],
  [.52,.92,.75,1.03,.3],[.75,1.01,.97,1.12,.35],[.6,.87,.75,.95,.4],[.61,.88,.76,.96,.4],[.69,.86,.82,.92,.36],[.89,.88,.99,.94,.22],[.96,.8,1.06,.88,.25],[1.07,.91,1.15,1,.18],[1.08,.72,1.2,.8,.25],[.92,.69,1.01,.75,.18],[.99,.65,1.12,.69,.19],
  [1.2,.68,1.28,.72,.16],[.4,.84,.44,.81,.09],[.46,.82,.52,.8,.09],[.66,.7,.7,.65,.1],[.82,.63,.93,.54,.16],[.77,.59,.84,.45,.2],[.99,.5,1.11,.38,.18],[1.11,.57,1.17,.53,.1],[1.21,.52,1.27,.49,.1],[1.32,.42,1.35,.41,.08],[1,.43,1.02,.35,.2],
  [1.05,.39,1.08,.3,.18],[1.11,.3,1.14,.23,.17],[1.16,.3,1.19,.24,.16],[.82,.47,.84,.38,.2],[.86,.47,.88,.38,.2],[.62,.46,.62,.36,.22],[.57,.67,.58,.59,.22],[.61,.65,.62,.57,.22],[.51,.55,.52,.46,.22],[.49,.55,.5,.47,.22],[.43,.5,.44,.43,.2],
  [.34,.37,.34,.3,.2],[.4,.73,.41,.6,.22],[.33,.73,.33,.62,.3],[.39,.27,.38,.2,.17],[.44,.27,.44,.2,.17],[.36,.2,.38,.11,.15],[.64,.22,.67,.12,.15],[.72,.26,.73,.14,.17],[.99,.22,1,.15,.13],[.45,.09,.46,.06,.09],[.48,.03,.49,-.02,.08],
  [.6,-.04,.6,-.06,.07],[.7,.04,.7,0,.1],[.69,-.05,.69,-.08,.06],[.73,-.09,.74,-.12,.07],[.84,-.02,.85,-.04,.07],[.89,0,.89,-.03,.07],[.94,.01,.94,-.02,.07],[.97,.07,.97,.04,.08],[1.03,-.1,1.04,-.13,.07],[.48,-.13,.48,-.16,.05],
  [.68,-.15,.69,-.17,.05],[.35,-.17,.35,-.19,.05],[1.24,-.15,1.24,-.17,.05],[1.22,.12,1.26,.01,.18],[.91,-.21,.92,-.21,.04],[1.78,.28,1.81,.28,.06],[1.86,.27,1.9,.25,.06],[2.08,.31,2.12,.31,.05],[1.54,.22,1.57,.19,.08],[1.48,-.1,1.51,-.12,.06],
  [1.42,-.32,1.44,-.33,.06],[1.27,-.41,1.29,-.42,.05],[1.32,-.38,1.34,-.38,.05],[1.29,-.59,1.31,-.59,.03],[1.73,-.56,1.75,-.57,.07],[1.97,-.53,1.99,-.53,.07],[2.05,-.42,2.07,-.42,.07],[1.38,-.8,1.42,-.8,.03],[1.54,-.83,1.57,-.83,.03],
  [1.21,-.87,1.24,-.87,.03],[.95,-.95,.98,-.94,.05],[1.13,-1.03,1.17,-1.02,.05],[1.58,-1.07,1.62,-1.06,.06],[1.7,-1.01,1.73,-1,.04],[1.35,-1.15,1.4,-1.14,.06],[1.09,-1.19,1.13,-1.18,.06],[.56,-1.11,.58,-1.11,.05],
  [-1.65,.69,-1.68,.63,.15],[-1.57,.46,-1.59,.42,.08],[-1.45,.33,-1.47,.3,.08],[-1.36,.15,-1.38,.13,.08],[-1.54,.08,-1.56,.07,.06],[-1.39,-.09,-1.42,-.1,.06],[-1.49,-.4,-1.51,-.41,.03],[-1.03,.67,-1.06,.6,.14],[-1,.58,-1.03,.52,.13],
  [-.81,.72,-.86,.65,.2],[-.8,.24,-.83,.2,.1],[-.77,.12,-.8,.1,.08],[-.95,-.05,-.98,-.06,.08],[-.98,-.24,-1.01,-.25,.06],[-.71,.55,-.72,.5,.17],[-.56,.65,-.62,.5,.3],[-.41,.53,-.43,.47,.15],[-.28,.64,-.38,.37,.27],[-.24,.52,-.27,.44,.17],
  [-.5,.39,-.55,.35,.15],[-.62,.31,-.67,.27,.13],[-.35,.34,-.37,.28,.12],[-.23,.32,-.27,.27,.13],[-.17,.26,-.19,.22,.1],[-.35,.18,-.37,.14,.1],[-.17,.14,-.23,.09,.1],[-.62,.08,-.64,.06,.08],[-.41,-.1,-.43,-.1,.07],[-.27,-.13,-.29,-.14,.07],
  [-.59,-.18,-.61,-.18,.05],[-.43,-.25,-.45,-.25,.03],[-.07,.21,-.09,.18,.1],[-.02,.27,-.04,.24,.12],[.06,.23,.05,.18,.12],[.17,.29,.16,.25,.13],[.18,.15,.17,.12,.1],[.16,.42,.14,.35,.17],[.27,.38,.25,.25,.2],[.35,.38,.34,.32,.2],
  [.39,.27,.38,.23,.15],[.37,.2,.39,.14,.15],[-.09,.08,-.07,.07,.09],[-.03,.04,-.05,.03,.08],[.03,.09,.01,.07,.08],[.13,.01,.11,0,.08],[.02,-.07,.01,-.08,.06],[.06,-.09,.05,-.1,.06],[.07,-.03,.06,-.03,.07],[.31,-.05,.29,-.08,.09],
  [.35,-.16,.34,-.17,.05],[-.05,.56,-.08,.52,.18],[.02,.57,.01,.49,.2],[-.03,.44,-.04,.36,.18],
]
const ganSpecks: Pt[] = [
  [-.24,-.33],[-.19,-.5],[.02,-.28],[.12,-.36],[.15,-.29],[.3,-.47],[-.07,-.72],[.19,-.74],[.33,-.92],[-.01,-.96],[-.29,-.99],[-.56,-.9],[-.79,-1.05],[-1.18,-1.12],[-1.15,-1.09],[-1.24,-.83],
  [-1.1,-.64],[-1.03,-.62],[-.95,-.7],[-.87,-.67],[-.75,-.57],[-.94,-.76],[-1.66,-1.15],[.74,-.51],[.81,-.66],[.96,-.49],[.54,-.79],[2.09,1.3],[2.17,1.35],[2.08,1.22],[2.31,1.34],[2.3,1.42],[.69,2.28],
  [1.92,.02],[2.2,-.03],[2.22,-.17],[2.21,-.88],
]

const toXY = (pts: Pt[]) => pts.map(([x, y]) => ({ x, y }))
const minus = (v: number) => String(v).replace("-", "\u2212")

const clamp01 = (v: number) => Math.max(0, Math.min(1, v))
function jet(t: number) {
  const c = (v: number) => Math.round(clamp01(v) * 255)
  const r = c(Math.min(4 * t - 1.5, -4 * t + 4.5))
  const g = c(Math.min(4 * t - 0.5, -4 * t + 3.5))
  const b = c(Math.min(4 * t + 0.5, -4 * t + 2.5))
  return `rgb(${r},${g},${b})`
}
const jetStops = [0, 0.125, 0.25, 0.375, 0.5, 0.625, 0.75, 0.875, 1]

const sans = "DejaVu Sans"
const office = "Lato, 'Open Sans', sans-serif"

// closed Catmull-Rom through the pixel points; points on the plot border keep a hard corner
function smoothOutline(points: { x: number; y: number }[], pts: Pt[]) {
  const n = points.length
  const onEdge = (i: number) => Math.abs(pts[i][0]) === 3 || Math.abs(pts[i][1]) === 3
  let d = `M${points[0].x},${points[0].y}`
  for (let i = 0; i < n; i++) {
    const a = points[(i - 1 + n) % n]
    const b = points[i]
    const j = (i + 1) % n
    const c = points[j]
    const e = points[(i + 2) % n]
    const c1 = onEdge(i) ? b : { x: b.x + (c.x - a.x) / 6, y: b.y + (c.y - a.y) / 6 }
    const c2 = onEdge(j) ? c : { x: c.x - (e.x - b.x) / 6, y: c.y - (e.y - b.y) / 6 }
    d += `C${c1.x},${c1.y} ${c2.x},${c2.y} ${c.x},${c.y}`
  }
  return d + "Z"
}

const drawArrow = (props: any) => {
  const { x1, y1, x2, y2, stroke } = props
  const dx = x1 - x2
  const dy = y1 - y2
  const len = Math.hypot(dx, dy) || 1
  const ux = dx / len
  const uy = dy / len
  const headLen = Math.min(7, len * 0.6)
  const bx = x1 - ux * headLen
  const by = y1 - uy * headLen
  const nx = -uy
  const ny = ux
  const shaft = 0.7
  const wing = len < 8 ? 2.2 : 2.4
  const d = [
    [x2 + nx * shaft, y2 + ny * shaft],
    [bx + nx * shaft, by + ny * shaft],
    [bx + nx * wing, by + ny * wing],
    [x1, y1],
    [bx - nx * wing, by - ny * wing],
    [bx - nx * shaft, by - ny * shaft],
    [x2 - nx * shaft, y2 - ny * shaft],
  ]
  return <polygon points={d.map((p) => p.join(",")).join(" ")} fill={stroke} fillOpacity={0.9} />
}

function Name({ left, top, size, family, sub, rotate }: any) {
  return (
    <div
      style={{
        position: "absolute",
        left,
        top,
        transform: `translate(-50%,-50%) rotate(${rotate || 0}deg)`,
        fontFamily: family,
        fontSize: size,
        lineHeight: 1,
        whiteSpace: "nowrap",
        color: "#111",
      }}
    >
      <i>{"\u03c8"}</i>
      <span style={{ fontSize: size * 0.7, position: "relative", top: size * 0.18 }}>{sub}</span>
    </div>
  )
}

function ContourPanel() {
  return (
    <div style={{ position: "absolute", left: 0, top: 0 }}>
      <ScatterChart width={1000} height={1246} margin={{ top: 155.6, right: 50.4, bottom: 84, left: 61.6 }}>
        <XAxis
          type="number"
          dataKey="x"
          domain={[-3, 3]}
          ticks={contourTicks}
          tickFormatter={minus}
          height={60}
          tickSize={9}
          tickMargin={8}
          stroke="#333"
          tick={{ fill: "#111", fontSize: 40, fontFamily: sans }}
          interval={0}
        />
        <YAxis
          type="number"
          dataKey="y"
          domain={[-3, 3]}
          ticks={contourTicks}
          tickFormatter={minus}
          width={110}
          tickSize={9}
          tickMargin={6}
          stroke="#333"
          tick={{ fill: "#111", fontSize: 40, fontFamily: sans }}
          interval={0}
        />
        <ReferenceArea x1={-3} x2={3} y1={-3} y2={3} fill={bandColors[0]} fillOpacity={1} stroke="none" />
        {contourLayers.map(([band, pts], i) => (
          <Scatter
            key={i}
            data={toXY(pts)}
            isAnimationActive={false}
            shape={() => <g />}
            line={(p: any) => (
              <path d={smoothOutline(p.points, pts)} fill={bandColors[band]} stroke={bandColors[band]} strokeWidth={1} />
            )}
          />
        ))}
        <CartesianGrid stroke="#adadad" strokeWidth={2} horizontalValues={contourTicks} verticalValues={contourTicks} />
        <ReferenceArea x1={-0.68} x2={1.31} y1={-0.19} y2={1.81} fill="none" stroke="#000" strokeWidth={6} />
        <Scatter data={toXY(trajectory)} fill="#000" isAnimationActive={false} shape={(p: any) => <circle cx={p.cx} cy={p.cy} r={8.5} fill="#000" />} />
        <Scatter data={toXY(trajectoryMark)} isAnimationActive={false} shape={(p: any) => <ellipse cx={p.cx} cy={p.cy} rx={7.5} ry={9} fill="#ffc0cb" />} />
        <Scatter data={toXY(minima)} isAnimationActive={false} shape={(p: any) => <Symbols type="star" cx={p.cx} cy={p.cy} size={330} fill="#ff0000" />} />
        <Scatter data={toXY(startPoint)} isAnimationActive={false} shape={(p: any) => <Symbols type="star" cx={p.cx} cy={p.cy} size={330} fill="#000" />} />
        <ReferenceArea x1={-3} x2={3} y1={-3} y2={3} fill="none" stroke="#555" strokeWidth={2} />
      </ScatterChart>
    </div>
  )
}

function BandBar() {
  return (
    <div style={{ position: "absolute", left: 990, top: 0 }}>
      <ScatterChart width={300} height={1246} margin={{ top: 155.6, right: 100, bottom: 144, left: 8 }}>
        <XAxis type="number" dataKey="x" domain={[0, 1]} hide />
        <YAxis
          type="number"
          dataKey="y"
          orientation="right"
          domain={[-0.88, 0]}
          ticks={bandTicks}
          tickFormatter={(v: number) => (v === 0 ? "0.00" : minus(v).padEnd(5, "0"))}
          width={143}
          tickSize={10}
          tickMargin={6}
          stroke="#555"
          axisLine={false}
          tick={{ fill: "#111", fontSize: 32, fontFamily: sans }}
          interval={0}
        />
        {bandColors.map((c, i) => (
          <ReferenceArea key={i} x1={0} x2={1} y1={-0.04 * (i + 1)} y2={-0.04 * i} fill={c} fillOpacity={1} stroke="none" />
        ))}
        <ReferenceArea x1={0} x2={1} y1={-0.88} y2={0} fill="none" stroke="#666" strokeWidth={2} />
        <Scatter data={[{ x: 0, y: 0 }]} isAnimationActive={false} shape={() => <g />} />
      </ScatterChart>
    </div>
  )
}

function QuiverPanel({ top, arrows, specks, maxMag, frame }: any) {
  return (
    <div style={{ position: "absolute", left: 1260, top }}>
      <ScatterChart width={880} height={600} margin={{ top: frame.top, right: 17.7, bottom: frame.bottom, left: 47.3 }}>
        <XAxis
          type="number"
          dataKey="x"
          domain={frame.x}
          ticks={quiverXTicks}
          height={50}
          tickSize={4}
          stroke="#777"
          interval={0}
          allowDataOverflow
          tick={(p: any) => {
            const v = p.payload.value
            const shift = v === -1.5 || v === 2.5 ? frame.endShift : 0
            return (
              <text x={p.x + shift} y={p.y + 20} dy="0.36em" textAnchor="middle" fontSize={26} fontFamily={office} fill="#222">
                {v.toFixed(1)}
              </text>
            )
          }}
        />
        <YAxis
          type="number"
          dataKey="y"
          domain={frame.y}
          ticks={quiverYTicks}
          width={90}
          tickSize={4}
          stroke="#777"
          interval={0}
          allowDataOverflow
          tick={(p: any) => (
            <text x={p.x - frame.labelShift} y={p.y - 4} dy="0.36em" textAnchor="start" fontSize={26} fontFamily={office} fill="#222">
              {p.payload.value.toFixed(1)}
            </text>
          )}
        />
        <ReferenceArea x1={frame.x[0]} x2={frame.x[1]} y1={frame.y[0]} y2={frame.y[1]} fill="none" stroke="#808080" strokeWidth={2} />
        <Scatter
          data={toXY(specks)}
          isAnimationActive={false}
          shape={(p: any) => <circle cx={p.cx} cy={p.cy} r={1.2} fill="#9a9aff" />}
        />
        <ReferenceArea x1={-0.69} x2={1.31} y1={-0.19} y2={1.8} fill="none" stroke="#000" strokeWidth={4.5} />
        {arrows.map((a: Arrow, i: number) => (
          <ReferenceLine
            key={i}
            segment={[{ x: a[0], y: a[1] }, { x: a[2], y: a[3] }]}
            stroke={jet(a[4] / maxMag)}
            shape={drawArrow}
            ifOverflow="visible"
          />
        ))}
      </ScatterChart>
    </div>
  )
}

function JetBar({ top, id, domain, ticks, chartTop, chartBottom }: any) {
  return (
    <div style={{ position: "absolute", left: 2160, top }}>
      <ScatterChart width={200} height={600} margin={{ top: chartTop, right: 0, bottom: chartBottom, left: 8 }}>
        <defs>
          <linearGradient id={id} x1="0" y1="1" x2="0" y2="0">
            {jetStops.map((s) => (
              <stop key={s} offset={s} stopColor={jet(s)} />
            ))}
          </linearGradient>
        </defs>
        <XAxis type="number" dataKey="x" domain={[0, 1]} hide />
        <YAxis
          type="number"
          dataKey="y"
          orientation="right"
          domain={domain}
          ticks={ticks}
          tickFormatter={(v: number) => v.toFixed(1)}
          width={142}
          tickSize={7}
          tickMargin={18}
          axisLine={false}
          stroke="#777"
          tick={{ fill: "#222", fontSize: 26, fontFamily: office }}
          interval={0}
          allowDataOverflow
        />
        <ReferenceArea x1={0} x2={1} y1={domain[0]} y2={domain[1]} fill={`url(#${id})`} fillOpacity={1} stroke="#555" strokeWidth={2} />
        <Scatter data={[{ x: 0, y: domain[0] }]} isAnimationActive={false} shape={() => <g />} />
      </ScatterChart>
    </div>
  )
}

function Title({ left, top, size, children }: any) {
  return (
    <div
      style={{
        position: "absolute",
        left,
        top,
        transform: "translate(-50%,-50%)",
        fontFamily: office,
        fontSize: size,
        lineHeight: 1,
        whiteSpace: "nowrap",
        color: "#111",
      }}
    >
      {children}
    </div>
  )
}

export default function App() {
  return (
    <div style={{ position: "absolute", left: 0, top: 0, width: 2280, height: 1246, overflow: "hidden", background: "#fff" }}>
      <div style={{ position: "absolute", left: 36, top: 9, right: 0, height: 1, background: "#c4c4c4" }} />
      <div style={{ position: "absolute", left: 36, top: 9, bottom: 0, width: 1, background: "#c4c4c4" }} />
      <ContourPanel />
      <BandBar />
      <Name left={559} top={1185} size={52} family={sans} sub="1" />
      <Name left={58} top={630} size={52} family={sans} sub="2" rotate={-90} />

      <Title left={1764} top={32} size={49}>True grads</Title>
      <QuiverPanel
        top={0}
        arrows={trueArrows}
        specks={trueSpecks}
        maxMag={0.854}
        frame={{ top: 71.7, bottom: 25, x: [-1.865, 2.49], y: [-1.374, 3], labelShift: 64, endShift: -6 }}
      />
      <JetBar top={0} id="jetTrue" domain={[0, 0.854]} ticks={trueBarTicks} chartTop={71.7} chartBottom={75} />
      <Name left={1764} top={592} size={50} family="'Liberation Serif'" sub="1" />
      <Name left={1289} top={302} size={50} family="'Liberation Serif'" sub="2" rotate={-90} />

      <Title left={1745} top={653} size={47}>GAN grads</Title>
      <QuiverPanel
        top={621}
        arrows={ganArrows}
        specks={ganSpecks}
        maxMag={0.68}
        frame={{ top: 71.3, bottom: 25, x: [-1.865, 2.49], y: [-1.371, 2.994], labelShift: 70, endShift: -4 }}
      />
      <JetBar top={621} id="jetGan" domain={[0.0086, 0.682]} ticks={ganBarTicks} chartTop={71} chartBottom={74.7} />
      <Name left={1765} top={1214} size={50} family="'Liberation Serif'" sub="1" />
      <Name left={1289} top={916} size={50} family="'Liberation Serif'" sub="2" rotate={-90} />
    </div>
  )
}
